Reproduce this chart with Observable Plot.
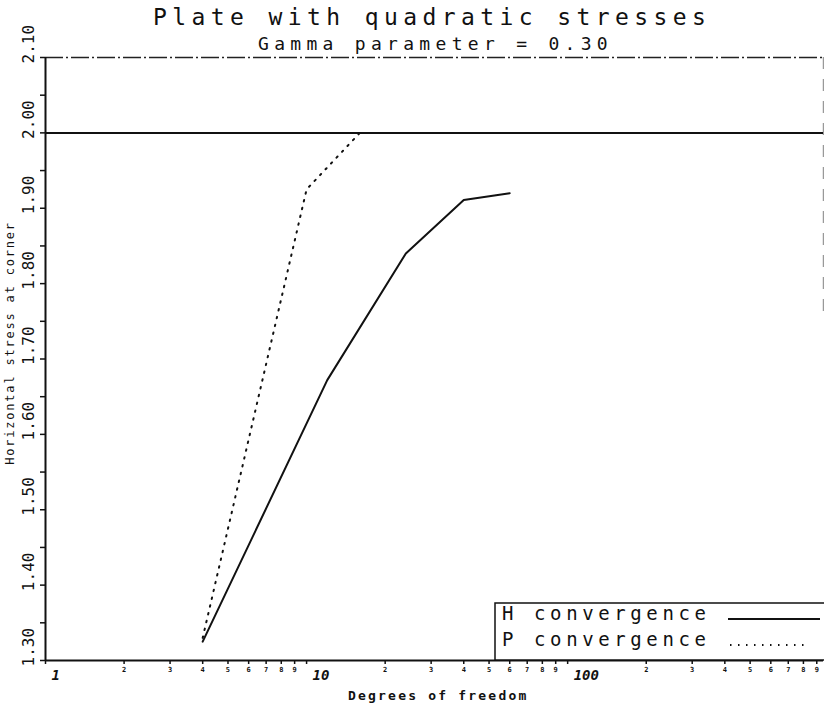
<!DOCTYPE html>
<html><head><meta charset="utf-8">
<script src="https://cdn.jsdelivr.net/npm/d3@7"></script>
<script src="https://cdn.jsdelivr.net/npm/@observablehq/plot@0.6"></script>
<style>
body{margin:0;background:#fff;overflow:hidden}
</style></head><body>
<div id="chart"></div>
<script>
// ---- data ----
const titleText = "Plate with quadratic stresses";
const subtitleText = "Gamma parameter = 0.30";
const xLabel = "Degrees of freedom";
const yLabel = "Horizontal stress at corner";
const seriesNames = ["H convergence", "P convergence"];

const hDof = [4, 12, 24, 40, 60];
const hStress = [1.325, 1.672, 1.84, 1.911, 1.92];
const pDof = [4, 10, 16];
const pStress = [1.33, 1.925, 2.0];
const exactStress = 2.0;

const xDomain = [1, 955];
const yDomain = [1.3, 2.1];
const xMajorTicks = [1, 10, 100];
const xMajorLabels = ["1", "10", "100"];
const xMinorTicks = [2,3,4,5,6,7,8,9,20,30,40,50,60,70,80,90,200,300,400,500,600,700,800,900];
const xMinorLabels = ["2","3","4","5","6","7","8","9","2","3","4","5","6","7","8","9","2","3","4","5","6","7","8","9"];
const yMajorTicks = [1.3, 1.4, 1.5, 1.6, 1.7, 1.8, 1.9, 2.0, 2.1];
const yMajorLabels = ["1.30","1.40","1.50","1.60","1.70","1.80","1.90","2.00","2.10"];
const yMinorTicks = [1.3,1.35,1.4,1.45,1.5,1.55,1.6,1.65,1.7,1.75,1.8,1.85,1.9,1.95,2.0,2.05,2.1];
const rightFrameLow = 1.75;

const hData = hDof.map((d, i) => ({dof: d, stress: hStress[i]}));
const pData = pDof.map((d, i) => ({dof: d, stress: pStress[i]}));
const yLabelData = yMajorTicks.map((d, i) => ({v: d, label: yMajorLabels[i]}));

const mono = "'DejaVu Sans Mono', monospace";

const plot = Plot.plot({
  width: 824, height: 711,
  marginLeft: 45, marginRight: 1, marginTop: 57, marginBottom: 51,
  x: {type: "log", domain: xDomain, axis: null},
  y: {domain: yDomain, axis: null},
  style: {background: "white", fontFamily: mono, color: "#111"},
  marks: [
    Plot.axisY({ticks: yMinorTicks, tickSize: 5, tickFormat: () => "", label: null, strokeWidth: 1.5}),
    Plot.axisX({ticks: xMinorTicks.concat(xMajorTicks), tickSize: 4, tickFormat: () => "", label: null, strokeWidth: 1.5}),
    Plot.text(yLabelData, {y: "v", text: "label", frameAnchor: "left", textAnchor: "start", dx: -17, dy: 6, rotate: -90, fontSize: 16, fontFamily: mono, fill: "#111"}),
    Plot.text(xMajorTicks, {x: d => d, text: (d, i) => xMajorLabels[i], frameAnchor: "bottom", dy: 19, dx: 6, textAnchor: "start", fontSize: 14, fontWeight: "bold", fontStyle: "italic", fontFamily: mono, fill: "#111"}),
    Plot.text(xMinorTicks, {x: d => d, text: (d, i) => xMinorLabels[i], frameAnchor: "bottom", dy: 11, fontSize: 7, fontWeight: "bold", fontFamily: mono, fill: "#111"}),
    Plot.ruleY([yDomain[1]], {stroke: "#222", strokeWidth: 1.5, strokeDasharray: "18,3,2,3"}),
    Plot.ruleX([xDomain[1]], {y1: yDomain[1], y2: rightFrameLow, stroke: "#999", strokeWidth: 1.5, strokeDasharray: "12,10"}),
    Plot.ruleY([exactStress], {stroke: "#111", strokeWidth: 2}),
    Plot.ruleX([xDomain[0]], {stroke: "#111", strokeWidth: 2}),
    Plot.ruleY([yDomain[0]], {stroke: "#111", strokeWidth: 2}),
    Plot.line(hData, {x: "dof", y: "stress", stroke: "#111", strokeWidth: 2}),
    Plot.line(pData, {x: "dof", y: "stress", stroke: "#111", strokeWidth: 2, strokeDasharray: "1.5,6.5"})
  ]
});

const svg = d3.select(plot);
function txt(s, x, y, size, opts = {}) {
  const t = svg.append("text").attr("x", x).attr("y", y).text(s)
    .attr("font-family", opts.font || mono).attr("font-size", size).attr("fill", "#111")
    .attr("text-anchor", opts.anchor || "start")
    .attr("letter-spacing", opts.ls || 0);
  if (opts.weight) t.attr("font-weight", opts.weight);
  if (opts.transform) t.attr("transform", opts.transform);
  return t;
}
txt(titleText, 153, 25, 23, {ls: 5.4});
txt(subtitleText, 258, 50, 18, {ls: 5.3});
txt(xLabel, 348, 700, 13, {ls: 2.2, weight: "bold"});
txt(yLabel, 0, 0, 12, {ls: 1.8, anchor: "middle", transform: "translate(14,343) rotate(-90)"});

// legend
const lg = svg.append("g");
lg.append("rect").attr("x", 495).attr("y", 603).attr("width", 340).attr("height", 57)
  .attr("fill", "white").attr("stroke", "#111").attr("stroke-width", 1.5);
txt(seriesNames[0], 502, 620, 19, {ls: 4.6});
txt(seriesNames[1], 502, 646, 19, {ls: 4.6});
lg.append("line").attr("x1", 728).attr("x2", 820).attr("y1", 619).attr("y2", 619)
  .attr("stroke", "#111").attr("stroke-width", 2);
lg.append("line").attr("x1", 730).attr("x2", 806).attr("y1", 645).attr("y2", 645)
  .attr("stroke", "#111").attr("stroke-width", 2).attr("stroke-dasharray", "1.5,6.5");

document.getElementById("chart").append(plot);
</script>
</body></html>
